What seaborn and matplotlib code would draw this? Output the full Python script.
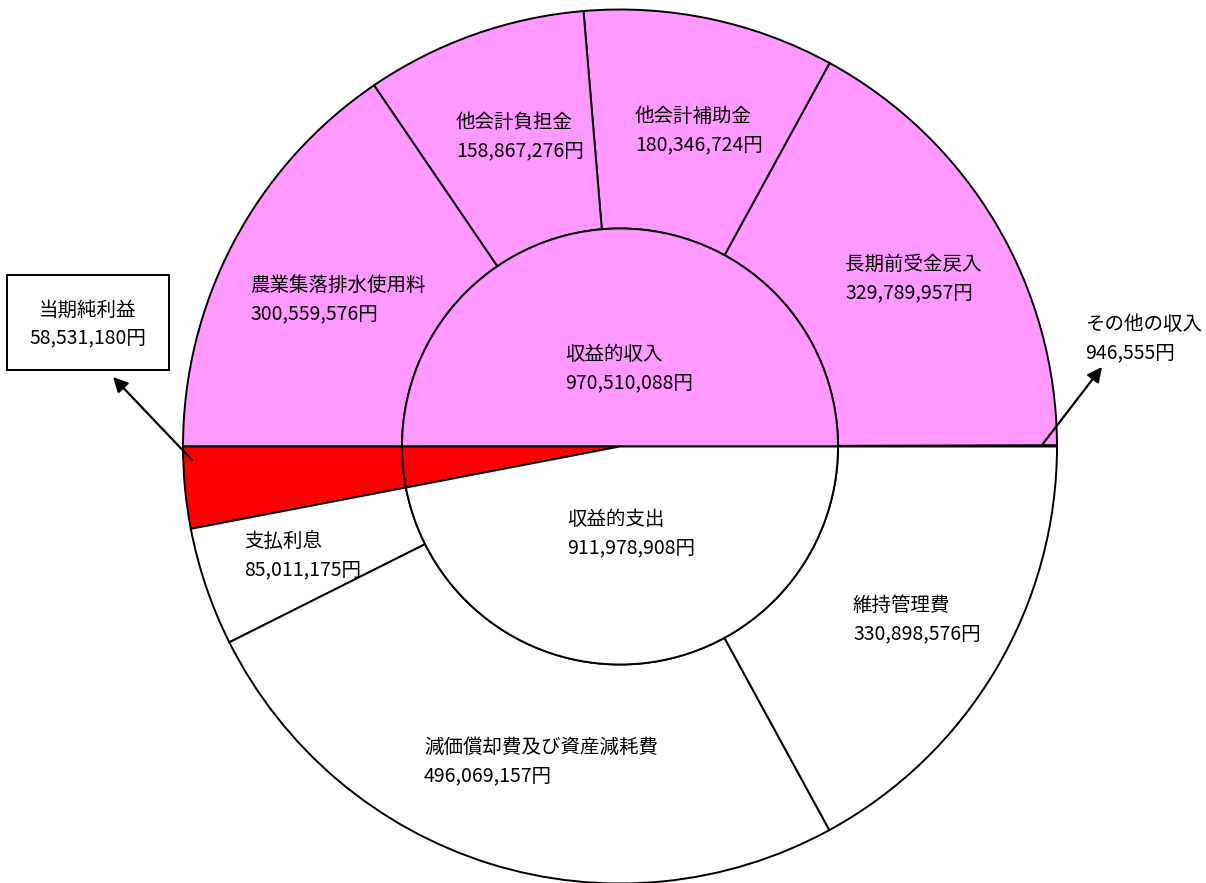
import matplotlib
matplotlib.use('Agg')
import matplotlib.pyplot as plt
from matplotlib.patches import Rectangle
import seaborn as sns

sns.set_theme(style='white')
plt.rcParams['font.family'] = ['Noto Sans CJK JP', 'DejaVu Sans']

# 外側リング（収入 → 支出の順、0度から反時計回り）
outer_names = ['その他の収入', '長期前受金戻入', '他会計補助金', '他会計負担金', '農業集落排水使用料',
               '当期純利益', '支払利息', '減価償却費及び資産減耗費', '維持管理費']
outer_values = [946555, 329789957, 180346724, 158867276, 300559576,
                58531180, 85011175, 496069157, 330898576]

# 内側の円
inner_names = ['収益的収入', '当期純利益', '収益的支出']
inner_values = [970510088, 58531180, 911978908]

pink = '#FF99FF'
red = '#FF0000'
outer_colors = [pink] * 5 + [red] + ['white'] * 3
inner_colors = [pink, red, 'white']

W, H = 1206, 883
cx, cy = 620, H - 446.5
R_out, R_in = 437, 218

fig = plt.figure(figsize=(W / 100, H / 100), dpi=100)
ax = fig.add_axes([0, 0, 1, 1])

ax.pie(outer_values, colors=outer_colors, radius=R_out, center=(cx, cy), startangle=0,
       counterclock=True, wedgeprops=dict(width=R_out - R_in, edgecolor='black', linewidth=1.4))
ax.pie(inner_values, colors=inner_colors, radius=R_in, center=(cx, cy), startangle=0,
       counterclock=True, wedgeprops=dict(edgecolor='black', linewidth=1.4))

ax.set_xlim(0, W)
ax.set_ylim(0, H)
ax.set_aspect('equal')
ax.axis('off')

fs = 14
ls = 1.45

# ラベル位置（画像座標: 左端x, 中心y）
label_pos = {
    'その他の収入': (1085, 338.5),
    '長期前受金戻入': (845, 278.5),
    '他会計補助金': (635, 130.5),
    '他会計負担金': (456, 136.5),
    '農業集落排水使用料': (250, 300),
    '支払利息': (244, 555.5),
    '減価償却費及び資産減耗費': (424, 761.5),
    '維持管理費': (853, 619.5),
}
for name, val in zip(outer_names, outer_values):
    if name not in label_pos:
        continue
    x, y = label_pos[name]
    ax.text(x, H - y, f'{name}\n{val:,}円', ha='left', va='center', fontsize=fs,
            linespacing=ls, color='black')

inner_pos = {'収益的収入': (565, 368.5), '収益的支出': (567, 533.5)}
for name, val in zip(inner_names, inner_values):
    if name not in inner_pos:
        continue
    x, y = inner_pos[name]
    ax.text(x, H - y, f'{name}\n{val:,}円', ha='left', va='center', fontsize=fs,
            linespacing=ls, color='black')

# 当期純利益のボックス
ax.add_patch(Rectangle((7, H - 370), 162, 95, facecolor='white', edgecolor='black', linewidth=1.4))
ax.text(88, H - 324, f'{outer_names[5]}\n{outer_values[5]:,}円', ha='center', va='center',
        fontsize=fs, linespacing=ls, color='black')

# 矢印
arrow = dict(arrowstyle='-|>', color='black', lw=1.6, mutation_scale=22, shrinkA=0, shrinkB=0)
ax.annotate('', xy=(113, H - 377), xytext=(192, H - 460), arrowprops=arrow)
ax.annotate('', xy=(1102, H - 367), xytext=(1042, H - 445), arrowprops=arrow)

fig.savefig('out.png', dpi=100)
